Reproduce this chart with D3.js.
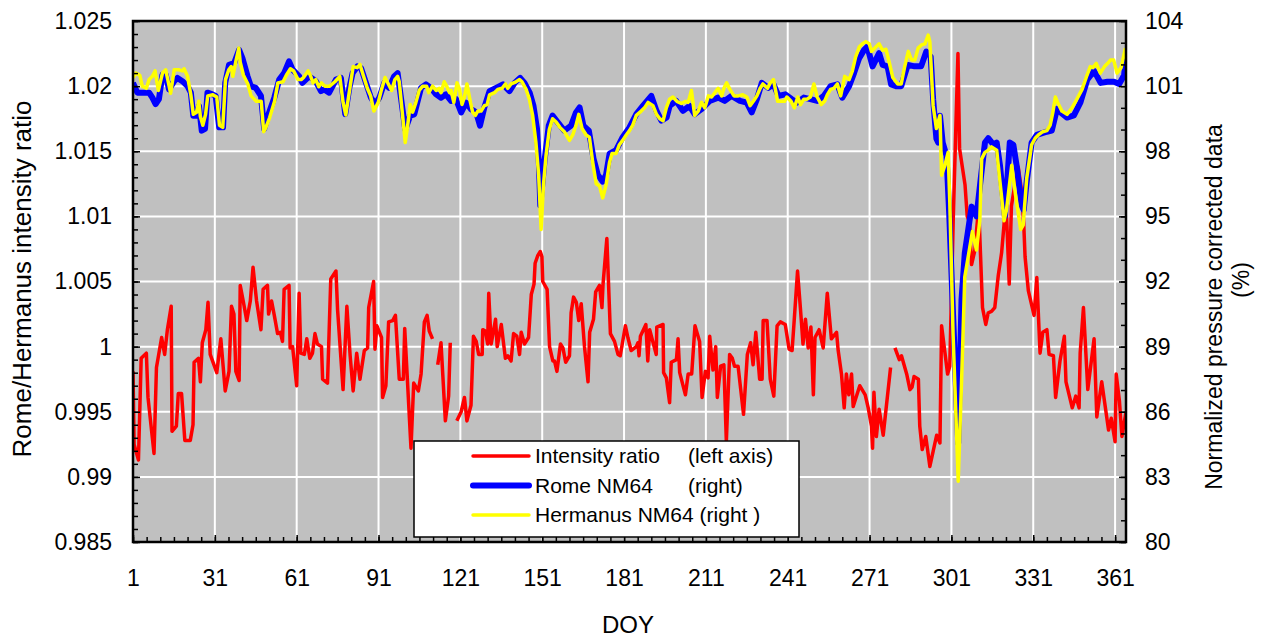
<!DOCTYPE html>
<html>
<head>
<meta charset="utf-8">
<script src="https://cdn.jsdelivr.net/npm/d3@7"></script>
<style>
  body { margin: 0; background: #fff; }
  text { font-family: "Liberation Sans", Arial, sans-serif; fill: #000; }
</style>
</head>
<body>
<div id="chart"></div>
<script>
// tick labels
var doyTicks = [1, 31, 61, 91, 121, 151, 181, 211, 241, 271, 301, 331, 361];
var leftTicks = [0.985, 0.99, 0.995, 1, 1.005, 1.01, 1.015, 1.02, 1.025];
var rightTicks = [80, 83, 86, 89, 92, 95, 98, 101, 104];

// Rome/Hermanus intensity ratio [DOY, ratio], null = missing days
var ratioData = [
  [1,0.9981],[1.4,0.9925],[3,0.9913],[4,0.9991],[5.9,0.9995],[6.5,0.9961],[8.7,0.9918],[9.6,0.9984],
  [11.5,1.0007],[12.6,0.9994],[13.6,1.0013],[15,1.0031],[15.3,0.9935],[16.9,0.9939],[17.6,0.9964],
  [18.8,0.9964],[20,0.9928],[22,0.9928],[23,0.994],[23.4,0.9988],[25,0.9991],[25.7,0.9973],
  [26.4,1.0003],[27.7,1.0013],[28.5,1.0034],[29.3,0.9994],[31.7,0.998],[33.2,1.0006],[34.8,0.9966],
  [36.2,0.9981],[37.1,1.0031],[38,1.0025],[38.7,0.9981],[39.9,0.9974],[40.3,1.0047],[41.4,1.0035],
  [42.7,1.002],[44,1.0035],[45,1.0061],[46.3,1.0035],[47.9,1.0013],[48.7,1.0044],[50.3,1.0047],
  [50.7,1.0025],[51.8,1.0035],[52.8,1.0024],[54,1.001],[55,1.0011],[55.8,1.0004],[56.4,1.0044],
  [58.2,1.0047],[58.6,0.9999],[59.5,1.0],[61,0.997],[61.9,1.0041],[62.5,0.9995],[63.8,0.9994],
  [64.7,1.0006],[65.8,0.9991],[66.8,0.9995],[67.7,1.001],[68.6,1.0002],[70.1,1.0],[70.5,0.9975],
  [72.3,0.9972],[73.5,1.0052],[75.4,1.0058],[76,1.0028],[78,0.9967],[79.4,1.0031],[80.6,0.9993],
  [81.7,0.9966],[83,0.9995],[84.2,0.9975],[85.8,0.9997],[87,0.9999],[87.4,1.003],[89.2,1.005],
  [89.7,0.9998],[90.4,1.0016],[92.1,1.0007],[92.5,0.9961],[93.7,0.997],[94.7,1.0019],[96.2,1.002],
  [97.2,1.0024],[98.6,0.9975],[100.1,0.9975],[100.6,1.0014],[102.9,0.9922],[103.9,0.9972],
  [105.6,0.9966],[106.6,0.9979],[107.8,1.0019],[108.8,1.0024],[109.6,1.0012],[110.8,1.0006],
  [111.7,null],
  [112.7,0.9986],[113.9,1.0003],[115.5,0.9943],[116.7,0.9962],[117.3,1.0003],
  [118.5,null],
  [119.7,0.9943],[121.3,0.995],[122.5,0.9961],[123.4,0.9943],[124.9,0.9955],[125.8,1.0008],
  [126.8,1.0004],[127.7,0.9994],[129,0.9994],[129.2,1.0013],[130.2,1.0012],[131,1.0002],
  [131.4,1.0041],[132.3,1.0002],[133.9,1.0021],[134.5,1.0],[136,1.0017],[137.5,0.9991],
  [138.4,0.9993],[139.6,0.9989],[140.5,1.001],[141.7,1.0008],[142.7,0.9994],[143.3,1.0011],
  [144.5,1.0002],[146,1.0007],[147,1.004],[148,1.0048],[148.4,1.0064],[149.4,1.007],[150.3,1.0073],
  [150.9,1.0069],[151.2,1.005],[152.8,1.0044],[153.7,1.0],[154.9,0.9989],[155.5,0.9989],
  [156.4,0.9981],[157.7,1.0002],[158.6,0.9999],[159.6,0.9988],[161,0.9993],[161.6,1.0026],
  [162.5,1.0038],[163.5,1.0034],[164.4,1.002],[165.3,1.0033],[166.5,1.0],[167.8,0.9973],
  [168.4,1.0011],[169.8,1.0021],[170.6,1.0042],[172,1.0047],[172.9,1.003],[173.3,1.0048],
  [174.7,1.0083],[176,1.001],[177.5,1.0004],[178.8,0.9994],[179.6,0.9993],[181.5,1.0016],
  [182.4,1.0007],[183.6,0.9997],[185.5,1.0],[186.1,1.0003],[186.5,0.9993],[187,1.0008],
  [189,1.0017],[189.7,0.9989],[190.4,1.0013],[192.8,0.9994],[193,1.0015],[195.3,1.0017],
  [195.5,0.998],[196.5,0.9976],[197.7,0.9957],[198.3,0.9988],[200.2,0.999],[200.8,1.0006],
  [201.4,0.998],[203.5,0.9963],[204.5,0.9979],[205.8,0.9979],[207,1.0016],[208.7,1.0004],
  [209.6,0.9961],[210.8,0.9981],[211.8,0.9976],[212.4,1.0008],[213.6,0.9982],[214.6,1.0],
  [215.2,0.9961],[216.4,0.9985],[217.6,0.9986],[218.5,0.9927],[219.7,0.9994],[220.7,0.9991],
  [221.5,0.9985],[222.8,0.9985],[224.8,0.9948],[226.2,0.9994],[227.4,1.0003],[228.3,0.9986],
  [229.3,1.0011],[230.7,0.9975],[231.6,0.9975],[232,1.002],[233.4,1.002],[234.6,0.9975],
  [235.9,0.9962],[237.1,1.0016],[238.3,1.0019],[240.1,1.0017],[241.5,0.9998],[242.6,0.9997],
  [243.4,1.0021],[244.6,1.0058],[245.7,1.0028],[246.6,1.0002],[247.5,1.0021],[248.5,0.9999],
  [249.5,1.0015],[250.4,0.9963],[251,1.0007],[252.5,1.0013],[254,0.9999],[255.5,1.0041],
  [257,1.0006],[258.9,1.0011],[259.5,0.9997],[260.7,0.9979],[261.7,0.9953],[262.5,0.9979],
  [263.4,0.9963],[264.4,0.9979],[265,0.9954],[267.4,0.997],[269.4,0.9963],[270.5,0.9953],
  [271.7,0.9939],[272.1,0.9922],[272.6,0.9965],[273.5,0.9931],[274.5,0.9952],[276,0.9932],
  [278.7,0.9984],
  [279.5,null],
  [280.3,0.9999],[281.9,0.999],[282.7,0.9993],[284.6,0.9979],[285.8,0.9967],[286.6,0.9969],
  [287.3,0.9977],[288.9,0.9975],[289.4,0.9939],[290.3,0.9921],[291.6,0.9931],[293.1,0.9908],
  [295.6,0.9932],[296.8,0.9926],[297.4,1.0016],[299.6,0.9979],[300.4,0.9985],[301.7,1.01],
  [303.4,1.0225],[304,1.0152],[306,1.0124],[306.8,1.01],[307.6,1.0096],[308.4,1.0063],
  [309.6,1.0074],[311,1.0108],[312.4,1.003],[313.6,1.0017],[314.5,1.0026],[315.7,1.0027],
  [316.9,1.003],[318.2,1.0055],[319.4,1.0072],[320.3,1.0094],[321,1.0112],[322.2,1.0048],
  [323,1.0108],[324.3,1.0125],[325.5,1.0138],[326.7,1.012],[327.5,1.0095],[328,1.0069],
  [329.2,1.0043],[331.3,1.0024],[332.3,1.0053],[333.5,0.9995],[334.5,1.0011],[336,1.0013],
  [336.8,0.9994],[338.4,0.9993],[339.2,0.9961],[340.8,0.9989],[342.4,1.0008],[343,0.9973],
  [345.3,0.9953],[346.6,0.9962],[347.8,0.9953],[348.2,0.9995],[349.4,1.003],[351,0.9967],
  [353.3,1.0006],[354.3,0.9946],[356.1,0.9973],[358.6,0.9936],[359.6,0.9945],[361,0.9927],
  [361.4,0.9979],[362.6,0.9958],[363.5,0.9931],[365,0.995]
];

// Rome NM64, normalized pressure corrected (%) [DOY, %]
var romeData = [
  [1,101.15],[2.6,100.7],[4.4,100.7],[6.9,100.7],[8.1,100.47],[9.3,100.17],[10.5,100.4],
  [11.8,101.53],[13,101.53],[14.2,100.85],[16.1,101.23],[17.3,101.38],[19.1,101.23],[21,101],
  [22.2,100.7],[23.1,99.64],[24.3,99.64],[25.2,100.09],[26.2,98.95],[27.4,99.03],[28.3,100.7],
  [30.1,100.62],[31.3,100.55],[32.6,99.1],[34,99.1],[34.8,101.15],[36.2,101.98],[38.1,102.06],
  [39.9,102.67],[41.1,102.29],[43,101.45],[44.2,101],[46,100.92],[47.9,100.55],[49.1,99.03],
  [50.9,99.79],[52.8,100.47],[54.6,101.3],[56.4,101.6],[58.2,102.14],[59.5,101.76],[61.9,101.45],
  [63.1,101.15],[65.6,101.45],[68,101.23],[69.9,100.77],[71.1,100.85],[72.9,100.7],[75.4,101.3],
  [77.2,101.38],[78.8,99.71],[80.3,100.92],[81.5,101.6],[83.3,101.91],[84.6,101.83],[86.4,101.15],
  [88.2,100.47],[89.8,100.17],[91.3,100.47],[93.1,101.15],[94.9,100.92],[96.7,101.45],[98,101.6],
  [100.8,99.0],[102.6,99.64],[104.1,99.7],[106.6,100.92],[108.4,101.08],[110.2,100.92],
  [112.1,100.62],[113.9,100.47],[115.7,100.62],[117.6,100.32],[119.4,100.4],[121.3,99.79],
  [123.1,100.24],[124.9,99.94],[126.8,99.79],[128.2,99.18],[129.8,100.02],[131.7,100.77],
  [134.1,100.92],[136.6,101.08],[139,100.77],[140.9,101.15],[142.9,101.38],[144.5,101.15],
  [146.4,100.7],[147.8,100.09],[149.1,99.03],[149.8,97.4],[150.3,95.5],[151.8,97.5],[153.4,99.18],
  [154.8,99.64],[156.7,99.33],[159.1,98.95],[161.6,99.18],[163.4,99.79],[164.7,100.02],
  [166.1,99.18],[168.1,98.95],[169.8,97.67],[171.4,96.91],[173.2,96.6],[174.4,96.91],
  [175.7,97.89],[178.1,98.05],[180.5,98.65],[183,99.1],[185.5,99.71],[187.9,100.09],[191,100.55],
  [192.9,99.86],[194.7,99.41],[196.6,99.56],[197.7,100.09],[200.1,100.32],[202.6,99.86],
  [205,100.09],[206.9,99.71],[209.4,99.94],[212.4,100.32],[215.5,100.47],[217.9,100.32],
  [220.4,100.55],[223.5,100.32],[226,100.24],[227.8,99.79],[229.7,100.4],[231.5,101.15],
  [233.9,100.92],[235.8,101.08],[237.6,100.55],[240.1,100.62],[242.5,100.4],[244.4,100.24],
  [246.9,100.47],[249.3,100.4],[251.8,100.32],[254.2,100.55],[256.7,101],[259.2,101.08],
  [261,100.47],[263.5,101],[265.3,101.6],[267.2,102.29],[269,102.67],[270.2,102.82],[272.1,101.91],
  [274.5,102.52],[275.8,101.98],[277.6,101.91],[278.9,101.08],[280.7,101],[282.6,101],[285,101.98],
  [287.5,101.91],[289.9,101.91],[291.8,102.59],[293.4,102.36],[294.3,100.4],[295.5,98.58],
  [296.2,98.4],[296.8,99.64],[297.8,98.4],[299.2,97.8],[300.2,95.1],[301.6,90.5],[303.5,84.55],
  [304.7,91.15],[305.9,93.3],[308.4,95.45],[310.2,95.0],[311.9,96.9],[313.3,98.4],[314.5,98.6],
  [316.4,98.3],[317.6,98.4],[318.8,97.35],[320.6,95.0],[322.4,98.4],[323.7,98.3],[324.9,97.35],
  [326.7,95.5],[327.5,95.3],[328.6,96.6],[330.4,98.4],[332.3,98.75],[336,98.9],[337.8,98.95],
  [339.7,99.95],[340.9,99.8],[343.4,99.55],[345.9,99.65],[348.3,100.25],[350.8,101.3],
  [353.3,101.7],[355.7,101.15],[358.2,101.2],[360.6,101.2],[362.5,101.1],[364.3,101.5],[365,102.35]
];

// Hermanus NM64, normalized pressure corrected (%) [DOY, %]
var hermanusData = [
  [1,101.38],[2,101.6],[3.5,101.5],[4.4,101],[5.9,100.9],[6.9,101.3],[8.1,101.45],[9.1,101.7],
  [10.3,100.8],[11.8,101.6],[13,101.75],[14,101.15],[14.8,100.67],[16.1,101.75],[17.9,101.75],
  [19.1,101.7],[19.7,101.8],[21,101.45],[22.2,100.6],[23.1,99.7],[24.3,99.8],[25.1,100.3],
  [25.7,99.6],[26.6,99.2],[27.6,99.7],[28.4,100.55],[30.3,100.6],[31.7,100.5],[32.7,99.2],
  [33.9,99.1],[34.9,101.3],[36.1,101.75],[37,101.9],[37.6,101.45],[38.8,102.2],[39.8,102.75],
  [40.3,102.1],[41.5,101.5],[43.1,101.1],[44.3,100.55],[46.2,100.3],[48,100.3],[48.9,98.9],
  [49.6,99.05],[51.1,99.55],[52.9,100.3],[54.1,101.15],[56,101.2],[57.2,101.5],[58.7,101.8],
  [59.9,101.7],[61.5,101.3],[62.7,101.3],[63.5,101.4],[65.2,101.7],[66,101.5],[67,101.15],
  [68,101.3],[69.1,100.97],[70.1,101.15],[71.3,101],[73.1,101],[75,101.2],[76.8,101.45],
  [78,100.25],[79,99.67],[80.5,100.9],[81.7,101.9],[83.2,101.85],[84.2,102],[85.4,101.5],
  [86.9,100.9],[88.1,100.55],[89.3,99.85],[90.9,100.25],[92.1,100.85],[93.4,101.4],[94.6,101.1],
  [95.8,100.8],[97,101.3],[98,101.45],[98.6,101.2],[100.8,98.4],[101.7,99.2],[102.6,100.15],
  [103.5,99.8],[104.7,100.25],[105.9,100.8],[107.2,101],[108.6,101],[109.4,100.7],[110.8,101],
  [112.1,100.8],[113.3,100.9],[113.9,100.7],[115.1,101.2],[116,101],[117,100.7],[117.6,100.8],
  [118.6,100.25],[119.8,101.15],[120.7,100.85],[121.6,100.15],[122.5,100.5],[123.4,101.1],
  [124.7,100.25],[125.5,99.8],[126.5,99.65],[127.4,99.85],[128.6,99.85],[129.8,100.1],
  [130.8,100.15],[131.7,100.6],[133.5,100.7],[134.7,100.85],[136.3,100.9],[137.5,101.1],
  [138.4,100.9],[139.6,101.1],[140.5,101.15],[141.4,101.2],[142.7,101.3],[143.6,101.2],
  [145.1,100.85],[146.3,100.4],[147.5,99.65],[148.7,98.4],[149.7,96.9],[150.6,94.4],[151.5,96.5],
  [152.4,97.8],[153.6,99],[154.8,99.5],[156.1,99.35],[157.5,99.1],[159.1,98.9],[161,98.5],
  [162.2,98.75],[163.4,99.2],[164.4,99.7],[165.6,99.05],[167.1,98.75],[168.3,98.65],[169.5,97.5],
  [170.8,96.5],[172,96.4],[173.2,95.85],[174.4,96.45],[175.7,97.5],[176.6,97.9],[178.1,97.9],
  [179.3,98.3],[180.5,98.5],[181.8,98.75],[183,98.95],[184.2,99.2],[185.5,99.65],[187.3,99.85],
  [188.5,100],[189.8,100.25],[191.6,100.1],[192.9,99.7],[194.1,99.5],[195.3,99.4],[196.5,100],
  [197.7,100.4],[198.9,100.5],[200.4,100.3],[202,100.2],[203.6,100.3],[204.5,100.25],
  [205.7,100.8],[206.9,99.65],[208.2,99.85],[209.4,100.25],[210.6,100],[211.9,100.55],
  [213.1,100.5],[214.3,100.7],[215.5,100.9],[216.8,100.55],[217.6,100.9],[218.6,101.15],
  [219.8,100.85],[221.3,100.55],[222.9,100.55],[224.5,100.6],[226,100.5],[227.2,100.1],
  [228.4,100.3],[229.7,100.55],[230.9,100.9],[231.9,101.1],[233.6,100.9],[234.6,101.15],
  [235.8,101.3],[237.3,100.3],[238.5,100.3],[239.8,100.3],[240.7,100.5],[242.2,100.3],
  [243.4,100],[244.7,100.5],[245.7,100.15],[246.9,100.4],[248.1,100.4],[249.3,100.5],
  [250.6,101.1],[251.8,100.5],[253.3,100.15],[254.5,100.3],[255.5,100.6],[256.7,100.85],
  [257.9,100.9],[259.2,101.1],[260.4,100.55],[261.4,101.15],[261.9,101.45],[263.5,101.3],
  [264.7,101.7],[265.9,102.35],[267.2,102.8],[268.4,102.95],[269.6,103.05],[270.9,102.95],
  [271.7,102.6],[273.3,102.8],[274.5,102.95],[275.8,102.65],[277,102.7],[278.2,102.1],
  [279.5,101.4],[281.3,101.1],[282.6,101.1],[283.8,101.85],[285.2,102.6],[286.4,102.2],
  [287.6,102.2],[288.8,102.75],[290.1,102.9],[291.3,102.95],[292.5,103.35],[293.1,103.05],
  [294.3,100.1],[295.5,99.05],[296.8,99.65],[297.4,96.9],[298.6,97.35],[299.8,97.95],
  [300.4,95.7],[301.6,89.6],[303.5,82.8],[304.7,87.3],[305.9,92.2],[308.7,94.3],[310.2,93.45],
  [311.4,94.8],[312.1,97.65],[313.3,97.95],[314.5,98.05],[315.7,98.2],[317.6,98.05],
  [318.8,96.6],[320.3,94.8],[321.2,95.3],[323.1,97.35],[324.5,96],[326.4,94.4],[327.3,94.6],
  [328.6,96.75],[330.4,98.3],[331.7,98.6],[332.9,98.75],[334.5,98.9],[336,98.95],[337.2,99.2],
  [338.2,99.8],[339.1,100.5],[340.3,100.15],[341.5,99.85],[343.4,99.7],[345.2,100],[347,100.4],
  [348.9,100.85],[350.7,101.5],[351.9,101.9],[352.9,101.85],[354.1,102.05],[355.6,101.6],
  [357.1,101.9],[358.3,102.05],[359.3,102.2],[360.5,102.2],[361.7,101.6],[363.2,101.85],
  [364.8,102.75]
];

var width = 1277,
    height = 642,
    margin = {top: 21, right: 151, bottom: 100, left: 133};
var chartW = width - margin.left - margin.right,
    chartH = height - margin.top - margin.bottom;

var x = d3.scaleLinear().domain([1, 365]).range([0, chartW]);
var yL = d3.scaleLinear().domain([0.985, 1.025]).range([chartH, 0]);
var yR = d3.scaleLinear().domain([80, 104]).range([chartH, 0]);

var svg = d3.select('#chart').append('svg')
    .attr('width', width)
    .attr('height', height);

svg.append('rect')
    .attr('width', width).attr('height', height)
    .attr('fill', '#fff');

var g = svg.append('g')
    .attr('transform', 'translate(' + margin.left + ',' + margin.top + ')');

g.append('rect')
    .attr('width', chartW).attr('height', chartH)
    .attr('fill', '#c0c0c0');

// grid
g.selectAll('.vgrid')
    .data(doyTicks.slice(1))
  .enter().append('line')
    .attr('class', 'vgrid')
    .attr('x1', d => x(d)).attr('x2', d => x(d))
    .attr('y1', 0).attr('y2', chartH)
    .attr('stroke', '#fff').attr('stroke-width', 2);

g.selectAll('.hgrid')
    .data(leftTicks.slice(1, -1))
  .enter().append('line')
    .attr('class', 'hgrid')
    .attr('x1', 0).attr('x2', chartW)
    .attr('y1', d => yL(d)).attr('y2', d => yL(d))
    .attr('stroke', '#fff').attr('stroke-width', 2);

g.append('clipPath').attr('id', 'plot-clip')
  .append('rect').attr('width', chartW).attr('height', chartH);

var lineL = d3.line()
    .defined(d => d[1] != null)
    .x(d => x(d[0]))
    .y(d => yL(d[1]));
var lineR = d3.line()
    .x(d => x(d[0]))
    .y(d => yR(d[1]));

var series = g.append('g').attr('clip-path', 'url(#plot-clip)');

series.append('path')
    .datum(ratioData)
    .attr('d', lineL)
    .attr('fill', 'none')
    .attr('stroke', '#ff0000')
    .attr('stroke-width', 3.5)
    .attr('stroke-linejoin', 'round');

series.append('path')
    .datum(romeData)
    .attr('d', lineR)
    .attr('fill', 'none')
    .attr('stroke', '#0000ff')
    .attr('stroke-width', 6)
    .attr('stroke-linejoin', 'round');

series.append('path')
    .datum(hermanusData)
    .attr('d', lineR)
    .attr('fill', 'none')
    .attr('stroke', '#ffff00')
    .attr('stroke-width', 3.5)
    .attr('stroke-linejoin', 'round');

// axes, ticks point inward
function styleAxis(sel) {
  sel.select('.domain').remove();
  sel.selectAll('line').attr('stroke', '#000').attr('stroke-width', 1.5);
  sel.selectAll('text')
      .style('font-family', '"Liberation Sans", Arial, sans-serif')
      .style('font-size', '23px')
      .attr('fill', '#000');
}

g.append('g')
    .attr('transform', 'translate(0,' + chartH + ')')
    .call(d3.axisBottom(x).tickValues(d3.range(1, 366, 5)).tickSize(-5).tickFormat(''))
    .call(styleAxis);
g.append('g')
    .attr('transform', 'translate(0,' + chartH + ')')
    .call(d3.axisBottom(x).tickValues(doyTicks).tickSize(-7).tickPadding(28))
    .call(styleAxis);

g.append('g')
    .call(d3.axisLeft(yL).tickValues(d3.range(0, 41).map(i => 0.985 + i * 0.001)).tickSize(-5).tickFormat(''))
    .call(styleAxis);
g.append('g')
    .call(d3.axisLeft(yL).tickValues(leftTicks).tickSize(-7).tickPadding(21)
      .tickFormat(d => String(+d.toFixed(3))))
    .call(styleAxis);

g.append('g')
    .attr('transform', 'translate(' + chartW + ',0)')
    .call(d3.axisRight(yR).tickValues(d3.range(80, 105, 1)).tickSize(-5).tickFormat(''))
    .call(styleAxis);
g.append('g')
    .attr('transform', 'translate(' + chartW + ',0)')
    .call(d3.axisRight(yR).tickValues(rightTicks).tickSize(-7).tickPadding(19))
    .call(styleAxis);

// plot border
g.append('rect')
    .attr('width', chartW).attr('height', chartH)
    .attr('fill', 'none')
    .attr('stroke', '#000').attr('stroke-width', 2.5);

// axis titles
svg.append('text')
    .attr('transform', 'translate(22,279) rotate(-90)')
    .attr('text-anchor', 'middle')
    .attr('dy', '0.35em')
    .style('font-size', '26px')
    .text('Rome/Hermanus intensity ratio');

svg.append('text')
    .attr('transform', 'translate(1214,307) rotate(-90)')
    .attr('text-anchor', 'middle')
    .attr('dy', '0.35em')
    .style('font-size', '23px')
    .text('Normalized pressure corrected data');
svg.append('text')
    .attr('transform', 'translate(1241,280) rotate(-90)')
    .attr('text-anchor', 'middle')
    .attr('dy', '0.35em')
    .style('font-size', '23px')
    .text('(%)');

svg.append('text')
    .attr('x', 628).attr('y', 625)
    .attr('text-anchor', 'middle')
    .attr('dy', '0.35em')
    .style('font-size', '24px')
    .text('DOY');

// legend
var legendItems = [
  {name: 'Intensity ratio', side: '(left axis)', color: '#ff0000', w: 3.5},
  {name: 'Rome NM64', side: '(right)', color: '#0000ff', w: 6},
  {name: 'Hermanus NM64 (right )', side: '', color: '#ffff00', w: 3.5}
];
var legend = svg.append('g').attr('transform', 'translate(414,441)');
legend.append('rect')
    .attr('width', 385).attr('height', 96)
    .attr('fill', '#fff')
    .attr('stroke', '#000').attr('stroke-width', 1.5);
var item = legend.selectAll('.item')
    .data(legendItems)
  .enter().append('g')
    .attr('class', 'item')
    .attr('transform', (d, i) => 'translate(0,' + (15 + i * 29.5) + ')');
item.append('line')
    .attr('x1', 59).attr('x2', 115)
    .attr('stroke', d => d.color)
    .attr('stroke-width', d => d.w)
    .attr('stroke-linecap', 'round');
item.append('text')
    .attr('x', 121).attr('dy', '0.35em')
    .style('font-size', '21px')
    .text(d => d.name);
item.append('text')
    .attr('x', 274).attr('dy', '0.35em')
    .style('font-size', '21px')
    .text(d => d.side);
</script>
</body>
</html>
